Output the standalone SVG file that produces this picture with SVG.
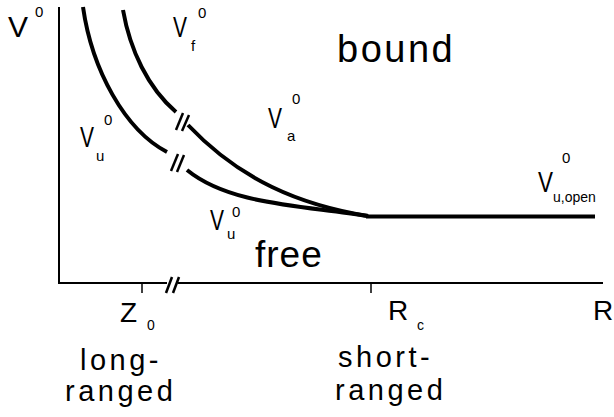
<svg xmlns="http://www.w3.org/2000/svg" width="614" height="417" viewBox="0 0 614 417">
<style>
text{font-family:"Liberation Sans",Arial,Helvetica,sans-serif;fill:#000}
.v{font-size:30px}
.sup{font-size:15px}
.sub{font-size:15px}
.big{font-size:37px}
.lbl{font-size:28px}
.rng{font-size:29px;letter-spacing:3.5px}
.axis{stroke:#000;stroke-width:2;fill:none}
.curve{stroke:#000;stroke-width:4;fill:none;stroke-linecap:butt}
.brk{stroke:#000;stroke-width:2.5;fill:none}
.tick{stroke:#000;stroke-width:1.5}
</style>
<g id="axes">
<line class="axis" x1="59" y1="7" x2="59" y2="284"/>
<line class="axis" x1="58" y1="283" x2="167" y2="283"/>
<line class="axis" x1="178" y1="283" x2="603" y2="283"/>
<line class="brk" x1="166" y1="293" x2="172" y2="277"/>
<line class="brk" x1="173" y1="293" x2="179" y2="277"/>
<line class="tick" x1="142" y1="283" x2="142" y2="293"/>
<line class="tick" x1="371" y1="283" x2="371" y2="293"/>
</g>
<g id="connectors">
<path class="curve" d="M83,7 C92,70 125,130 167,152"/>
<path class="curve" d="M187,170 C230,205 300,205 368,216"/>
<path class="curve" d="M123,10 C130,50 148,88 176,112"/>
<path class="curve" d="M188,125 C240,180 300,205 368,216"/>
<path class="curve" d="M366,216.5 L595,216.5"/>
<line class="brk" x1="176" y1="130" x2="183" y2="113"/>
<line class="brk" x1="182" y1="131" x2="189" y2="115"/>
<line class="brk" x1="171" y1="171" x2="178" y2="154"/>
<line class="brk" x1="177" y1="172" x2="184" y2="155"/>
</g>
<g id="label-V0">
<text class="v" x="8" y="37">V</text>
<text class="sup" x="35" y="17">0</text>
</g>
<g id="label-Vf">
<text class="v" x="173" y="37" textLength="14" lengthAdjust="spacingAndGlyphs">V</text>
<text class="sub" x="191" y="51">f</text>
<text class="sup" x="198" y="18">0</text>
</g>
<g id="label-Vu-left">
<text class="v" x="80" y="147" textLength="14" lengthAdjust="spacingAndGlyphs">V</text>
<text class="sup" x="104" y="125">0</text>
<text class="sub" x="96" y="161">u</text>
</g>
<g id="label-Va">
<text class="v" x="268" y="128" textLength="14" lengthAdjust="spacingAndGlyphs">V</text>
<text class="sup" x="292" y="104">0</text>
<text class="sub" x="287" y="141">a</text>
</g>
<g id="label-Vu-low">
<text class="v" x="210" y="230" textLength="14" lengthAdjust="spacingAndGlyphs">V</text>
<text class="sup" x="232" y="217">0</text>
<text class="sub" x="227" y="239">u</text>
</g>
<g id="label-Vuopen">
<text class="v" x="538" y="192" textLength="15" lengthAdjust="spacingAndGlyphs">V</text>
<text class="sup" x="562" y="163">0</text>
<text class="sub" x="553" y="202" style="font-size:14px">u,open</text>
</g>
<g id="region-bound">
<text class="big" x="337" y="62" style="font-size:38px;letter-spacing:2.5px">bound</text>
</g>
<g id="region-free">
<text class="big" x="255" y="267" style="letter-spacing:1px">free</text>
</g>
<g id="tick-Z0">
<text class="lbl" x="120" y="322">Z</text>
<text class="sub" x="147" y="330" style="font-size:14px">0</text>
</g>
<g id="tick-Rc">
<text class="lbl" x="388" y="320">R</text>
<text class="sub" x="417" y="330" style="font-size:14px">c</text>
</g>
<g id="tick-R">
<text class="lbl" x="593" y="320">R</text>
</g>
<g id="note-long">
<text class="rng" x="80" y="370">long-</text>
<text class="rng" x="65" y="401">ranged</text>
</g>
<g id="note-short">
<text class="rng" x="338" y="367">short-</text>
<text class="rng" x="335" y="400">ranged</text>
</g>
</svg>
